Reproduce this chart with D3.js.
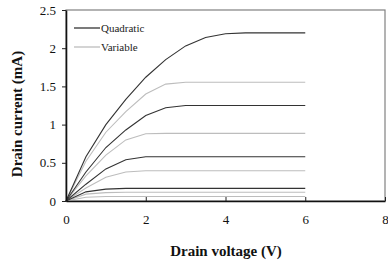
<!DOCTYPE html>
<html>
<head>
<meta charset="utf-8">
<script src="https://cdn.jsdelivr.net/npm/d3@7"></script>
<style>
  body { margin: 0; background: #fff; }
  svg text { font-family: "Liberation Serif", "DejaVu Serif", serif !important; }
</style>
</head>
<body>
<div id="chart"></div>
<script>
// drain voltage samples (V)
const voltages = [0, 0.5, 1.0, 1.5, 2.0, 2.5, 3.0, 3.5, 4.0, 4.5, 6.0];

// Quadratic model (black), drain current (mA)
const quadratic = [
    [0, 0.58, 1.00, 1.33, 1.62, 1.85, 2.03, 2.14, 2.19, 2.20, 2.20],
    [0, 0.38, 0.70, 0.93, 1.12, 1.22, 1.25, 1.25, 1.25, 1.25, 1.25],
    [0, 0.22, 0.42, 0.54, 0.58, 0.58, 0.58, 0.58, 0.58, 0.58, 0.58],
    [0, 0.12, 0.155, 0.165, 0.165, 0.165, 0.165, 0.165, 0.165, 0.165, 0.165]
];

// Variable model (gray)
const variable = [
    [0, 0.52, 0.90, 1.17, 1.40, 1.53, 1.555, 1.555, 1.555, 1.555, 1.555],
    [0, 0.33, 0.60, 0.80, 0.88, 0.885, 0.885, 0.885, 0.885, 0.885, 0.885],
    [0, 0.17, 0.31, 0.38, 0.395, 0.395, 0.395, 0.395, 0.395, 0.395, 0.395],
    [0, 0.09, 0.11, 0.114, 0.114, 0.114, 0.114, 0.114, 0.114, 0.114, 0.114],
    [0, 0.05, 0.058, 0.058, 0.058, 0.058, 0.058, 0.058, 0.058, 0.058, 0.058]
];

const xTicks = [0, 2, 4, 6, 8];
const yTicks = [0, 0.5, 1, 1.5, 2, 2.5];
const legendNames = ["Quadratic", "Variable"];

const colors = { quadratic: "#333", variable: "#bdbdbd" };
const serif = "'Liberation Serif', 'DejaVu Serif', serif";

const W = 388, H = 268;
const margin = { top: 10, right: 3, bottom: 67, left: 66 };
const width = W - margin.left - margin.right;
const height = H - margin.top - margin.bottom;

const svg = d3.select("#chart").append("svg")
    .attr("width", W)
    .attr("height", H)
    .attr("font-family", serif);

const g = svg.append("g")
    .attr("transform", "translate(" + margin.left + "," + margin.top + ")");

const x = d3.scaleLinear().domain([0, 8]).range([0, width]);
const y = d3.scaleLinear().domain([0, 2.5]).range([height, 0]);

// frame (top/right gray)
g.append("rect")
    .attr("x", 0).attr("y", 0)
    .attr("width", width).attr("height", height)
    .attr("fill", "none")
    .attr("stroke", "#808080")
    .attr("stroke-width", 1.2);

// curves
const line = d3.line()
    .x((d, i) => x(voltages[i]))
    .y(d => y(d));

function drawSet(set, color) {
    g.selectAll(null)
        .data(set)
        .enter()
        .append("path")
        .attr("d", d => line(d))
        .attr("fill", "none")
        .attr("stroke", color)
        .attr("stroke-width", 1.1);
}
drawSet(variable, colors.variable);
drawSet(quadratic, colors.quadratic);

// axes
const xAxis = d3.axisBottom(x).tickValues(xTicks).tickSizeInner(-4).tickSizeOuter(0).tickPadding(14);
const yAxis = d3.axisLeft(y).tickValues(yTicks).tickSizeInner(4).tickSizeOuter(0).tickPadding(6)
    .tickFormat(d3.format("~g"));

const gx = g.append("g")
    .attr("transform", "translate(0," + height + ")")
    .call(xAxis);
const gy = g.append("g").call(yAxis);

[gx, gy].forEach(a => {
    a.attr("font-family", serif).attr("font-size", 13);
    a.select(".domain").attr("stroke", "#111").attr("stroke-width", 1.6);
    a.selectAll(".tick line").attr("stroke", "#222").attr("stroke-width", 1);
    a.selectAll(".tick text").attr("fill", "#111");
});

// axis titles
svg.append("text")
    .attr("x", 226)
    .attr("y", 256)
    .attr("text-anchor", "middle")
    .attr("font-size", 15)
    .attr("font-weight", "bold")
    .attr("fill", "#111")
    .text("Drain voltage (V)");

svg.append("text")
    .attr("transform", "translate(22,114) rotate(-90)")
    .attr("text-anchor", "middle")
    .attr("font-size", 15)
    .attr("font-weight", "bold")
    .attr("fill", "#111")
    .text("Drain current (mA)");

// legend
const legend = svg.append("g").attr("transform", "translate(74,28)");
[colors.quadratic, colors.variable].forEach((c, i) => {
    legend.append("line")
        .attr("x1", 0).attr("x2", 26)
        .attr("y1", i * 19).attr("y2", i * 19)
        .attr("stroke", c)
        .attr("stroke-width", 1.3);
    legend.append("text")
        .attr("x", 27)
        .attr("y", i * 19 + 4)
        .attr("font-size", 11)
        .attr("fill", "#222")
        .text(legendNames[i]);
});
</script>
</body>
</html>
